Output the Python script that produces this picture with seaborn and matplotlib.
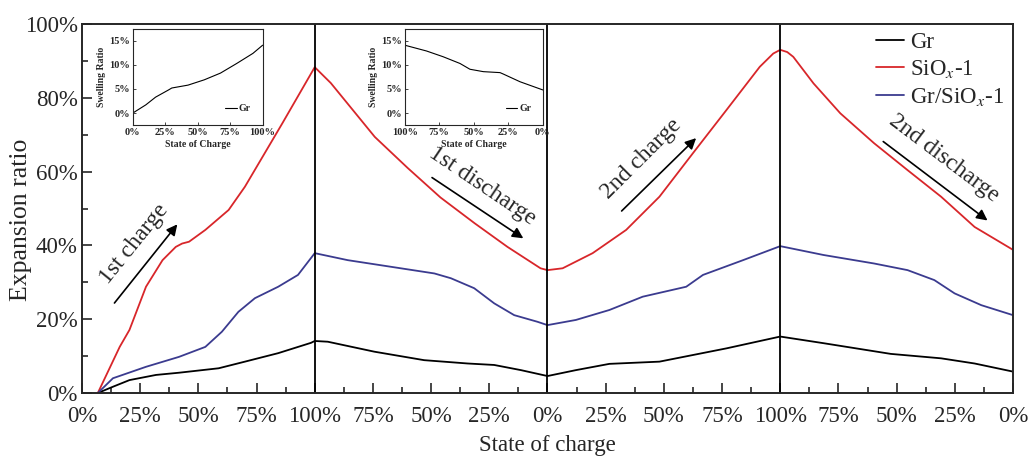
import numpy as np
import pandas as pd
import matplotlib.pyplot as plt
from matplotlib.ticker import MultipleLocator
import seaborn as sns

# position on the x axis runs 0-400: 1st charge, 1st discharge, 2nd charge, 2nd discharge
gr_x = [6.8, 13.3, 20.4, 31.8, 41.7, 58.7, 70, 84.3, 98.4, 100, 105.6, 125.6, 147, 165.7,
        177.1, 188.6, 200, 212.2, 226.6, 248.1, 262.5, 276.9, 300, 318.6, 347.5, 369.1, 383.5, 400]
gr_y = [0, 1.7, 3.5, 4.9, 5.5, 6.7, 8.5, 10.8, 13.6, 14.1, 13.9, 11.2, 8.9, 8.0,
        7.6, 6.2, 4.6, 6.2, 7.9, 8.5, 10.3, 12.1, 15.3, 13.5, 10.6, 9.4, 8.0, 5.8]

siox_x = [6.8, 16.2, 20.4, 27.5, 34.6, 40.3, 43, 46, 53, 63, 70, 86, 100, 106.9, 125.8,
          139.9, 154, 168.7, 182.8, 197, 200, 206.5, 219.4, 233.8, 248.1, 262.5, 276.9,
          291.2, 297, 300, 303, 305.6, 314.3, 325.8, 340.3, 354.7, 369.1, 383.5, 400]
siox_y = [0, 12.5, 17.1, 28.8, 36, 39.6, 40.5, 41, 44.2, 49.6, 55.9, 73, 88.3, 84, 69.4,
          61, 53, 46, 39.6, 33.8, 33.3, 33.8, 37.9, 44.2, 53.2, 65, 76.7,
          88.4, 92, 93, 92.4, 91.1, 83.9, 75.8, 67.7, 60.4, 53.2, 45, 38.8]

mix_x = [6.8, 13.3, 27.5, 41.7, 53, 60.1, 67.2, 74.3, 84.3, 92.8, 100, 114.2, 132.8, 151.4,
         158.5, 168.5, 177.1, 185.7, 195.7, 200, 212.2, 226.6, 240.9, 259.6, 266.8, 284,
         300, 318.6, 340.3, 354.7, 366.2, 374.9, 386.4, 400]
mix_y = [0, 4, 7.1, 9.8, 12.5, 16.6, 22, 25.7, 28.8, 32, 37.9, 36, 34.2, 32.4,
         31.1, 28.4, 24.3, 21.1, 19.3, 18.4, 19.8, 22.5, 26.1, 28.8, 32, 36,
         39.8, 37.4, 35.1, 33.3, 30.6, 27, 23.8, 21.1]

x_tick_labels = ["0%", "25%", "50%", "75%", "100%", "75%", "50%", "25%", "0%",
                 "25%", "50%", "75%", "100%", "75%", "50%", "25%", "0%"]

# insets: Gr swelling during charge and discharge
ins_chg_x = [0, 10, 17.5, 27.5, 30, 42.5, 55, 67.5, 80, 92.5, 100]
ins_chg_y = [0, 1.7, 3.3, 4.8, 5.2, 5.8, 6.9, 8.3, 10.3, 12.4, 14.1]
ins_dis_x = [100, 84.3, 72.2, 60, 52.8, 43.1, 31, 28.6, 16.5, 0]
ins_dis_y = [14.1, 12.9, 11.7, 10.3, 9.1, 8.6, 8.4, 8.1, 6.5, 4.8]

labels = ["Gr", "SiO$_x$-1", "Gr/SiO$_x$-1"]
colors = ["#000000", "#d8262a", "#3b3b8f"]

df = pd.concat([
    pd.DataFrame({"pos": gr_x, "ratio": gr_y, "material": labels[0]}),
    pd.DataFrame({"pos": siox_x, "ratio": siox_y, "material": labels[1]}),
    pd.DataFrame({"pos": mix_x, "ratio": mix_y, "material": labels[2]}),
])

sns.set_style("ticks")
plt.rcParams["font.family"] = ["Liberation Serif", "DejaVu Serif"]
plt.rcParams["mathtext.fontset"] = "stix"

fig = plt.figure(figsize=(10.3, 4.58), dpi=100)
ax = fig.add_axes([0.0796, 0.1419, 0.9039, 0.8057])

sns.lineplot(data=df, x="pos", y="ratio", hue="material", palette=dict(zip(labels, colors)),
             estimator=None, lw=1.3, ax=ax)

for xv in [100, 200, 300]:
    ax.axvline(xv, color="k", lw=1.3)

ax.set_xlim(0, 400)
ax.set_ylim(0, 100)
ax.set_xticks(np.arange(0, 401, 25))
ax.set_xticklabels(x_tick_labels)
ax.xaxis.set_minor_locator(MultipleLocator(12.5))
ax.set_yticks(np.arange(0, 101, 20))
ax.set_yticklabels([f"{v}%" for v in range(0, 101, 20)])
ax.yaxis.set_minor_locator(MultipleLocator(10))
ax.tick_params(which="both", direction="in", labelsize=16.5, width=1.2)
ax.tick_params(which="major", length=7)
ax.tick_params(which="minor", length=4)
ax.tick_params(axis="x", pad=9)
ax.tick_params(axis="y", pad=3)
for s in ax.spines.values():
    s.set_linewidth(1.4)
    s.set_visible(True)
ax.set_xlabel("State of charge", fontsize=16.5, labelpad=6)
ax.set_ylabel("Expansion ratio", fontsize=18.5)
ax.yaxis.set_label_coords(-0.054, 0.47)

ax.legend(loc="upper right", bbox_to_anchor=(1.013, 1.035), frameon=False, fontsize=16.5,
          handlelength=1.2, handletextpad=0.3, labelspacing=0.25)

# arrows with labels
arrows = [((13.2, 23.8), (41.7, 46.3), (22.5, 40.5), 51, "1st charge"),
          ((149.4, 58.8), (190.6, 41.5), (172, 56), -34, "1st discharge"),
          ((231, 48.8), (264.7, 69.6), (240.5, 63.5), 45, "2nd charge"),
          ((343.3, 68.6), (390, 46.3), (370.5, 63.5), -37, "2nd discharge")]
for start, end, tpos, rot, txt in arrows:
    ax.annotate("", xy=end, xytext=start,
                arrowprops=dict(arrowstyle="-|>", color="k", lw=1.2, mutation_scale=16))
    ax.text(tpos[0], tpos[1], txt, rotation=rot, rotation_mode="anchor",
            ha="center", va="center", fontsize=17)

# insets
for left, width, xs, ys, rev in [(0.129, 0.126, ins_chg_x, ins_chg_y, False),
                                 (0.393, 0.134, ins_dis_x, ins_dis_y, True)]:
    iax = fig.add_axes([left, 0.727, width, 0.21])
    sns.lineplot(x=xs, y=ys, color="k", lw=0.8, ax=iax, label="Gr", estimator=None, sort=False)
    iax.set_xlim((100, 0) if rev else (0, 100))
    iax.set_ylim(-2.5, 17.5)
    iax.set_xticks([0, 25, 50, 75, 100])
    iax.set_xticklabels(["0%", "25%", "50%", "75%", "100%"])
    iax.set_yticks([0, 5, 10, 15])
    iax.set_yticklabels(["0%", "5%", "10%", "15%"])
    iax.tick_params(direction="in", labelsize=7.5, length=2, width=0.6, pad=2)
    for lab in iax.get_xticklabels() + iax.get_yticklabels():
        lab.set_fontweight("bold")
    for s in iax.spines.values():
        s.set_linewidth(0.8)
    iax.set_xlabel("State of Charge", fontsize=7, fontweight="bold", labelpad=2)
    iax.set_ylabel("Swelling Ratio", fontsize=7, fontweight="bold", labelpad=2)
    iax.legend(loc="lower right", frameon=False, handlelength=1.2, handletextpad=0.2,
               prop={"size": 7, "weight": "bold"}, borderaxespad=0.8)

fig.savefig("out.png", dpi=100)
